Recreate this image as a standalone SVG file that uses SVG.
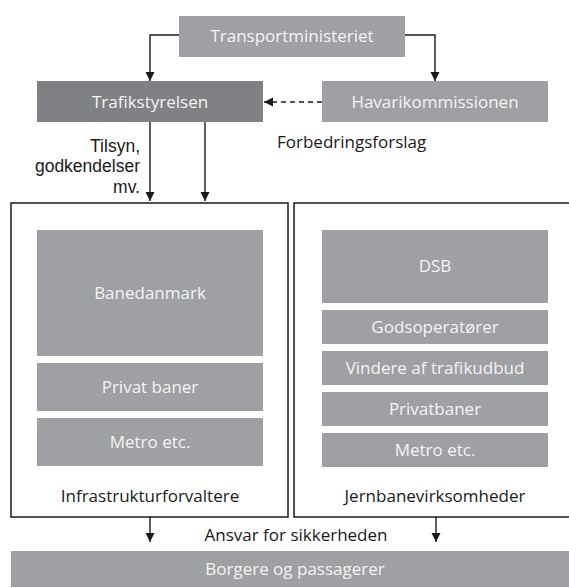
<svg xmlns="http://www.w3.org/2000/svg" width="569" height="588" viewBox="0 0 569 588">
<style>
.box{fill:#9fa0a4}
.dark{fill:#808184}
.frame{fill:#fff;stroke:#1a1a1a;stroke-width:1.5}
.wt{font-family:"Open Sans","Liberation Sans",sans-serif;font-size:17px;fill:#f4f4f4;text-anchor:middle}
.bt{font-family:"Open Sans","Liberation Sans",sans-serif;font-size:17px;fill:#1a1a1a}
.lt{font-family:"Liberation Sans",Arial,sans-serif;font-size:17.5px;fill:#1a1a1a;text-anchor:end}
.c{fill:none;stroke:#1a1a1a;stroke-width:1.4}
.d{stroke-dasharray:5 4}
</style>
<defs>
<marker id="ah" markerUnits="userSpaceOnUse" markerWidth="10" markerHeight="10" refX="9" refY="4.5" orient="auto">
<path d="M0,0 L9,4.5 L0,9 z" fill="#1a1a1a"/>
</marker>
</defs>
<rect width="569" height="588" fill="#fff"/>
<g id="connectors">
<path class="c" d="M179,35 H150 V81" marker-end="url(#ah)"/>
<path class="c" d="M405,35 H435 V81" marker-end="url(#ah)"/>
<path class="c d" d="M322,102 H264" marker-end="url(#ah)"/>
<path class="c" d="M150,122 V201" marker-end="url(#ah)"/>
<path class="c" d="M205,122 V201" marker-end="url(#ah)"/>
<path class="c" d="M150,517 V542" marker-end="url(#ah)"/>
<path class="c" d="M436,517 V542" marker-end="url(#ah)"/>
</g>
<g id="transportministeriet">
<rect class="box" x="179" y="16" width="226" height="41"/>
<text class="wt" x="292" y="42">Transportministeriet</text>
</g>
<g id="trafikstyrelsen">
<rect class="dark" x="37" y="81" width="226" height="41"/>
<text class="wt" x="150" y="107.5">Trafikstyrelsen</text>
</g>
<g id="havarikommissionen">
<rect class="box" x="322" y="81" width="226" height="41"/>
<text class="wt" x="435" y="107.5">Havarikommissionen</text>
</g>
<g id="label-tilsyn">
<text class="lt" x="140" y="151.5">Tilsyn,</text>
<text class="lt" x="140" y="172">godkendelser</text>
<text class="lt" x="140" y="192.5">mv.</text>
</g>
<g id="label-forbedring">
<text class="bt" x="277" y="148">Forbedringsforslag</text>
</g>
<g id="infrastrukturforvaltere">
<rect class="frame" x="11" y="203" width="277" height="314"/>
<text class="bt" text-anchor="middle" x="150" y="502">Infrastrukturforvaltere</text>
</g>
<g id="banedanmark">
<rect class="box" x="37" y="230" width="226" height="126"/>
<text class="wt" x="150" y="299">Banedanmark</text>
</g>
<g id="privat-baner">
<rect class="box" x="37" y="363" width="226" height="48"/>
<text class="wt" x="150" y="393">Privat baner</text>
</g>
<g id="metro-left">
<rect class="box" x="37" y="418" width="226" height="48"/>
<text class="wt" x="150" y="448">Metro etc.</text>
</g>
<g id="jernbanevirksomheder">
<rect class="frame" x="294" y="203" width="280" height="314"/>
<text class="bt" text-anchor="middle" x="435" y="502">Jernbanevirksomheder</text>
</g>
<g id="dsb">
<rect class="box" x="322" y="230" width="226" height="73"/>
<text class="wt" x="435" y="272">DSB</text>
</g>
<g id="godsoperatorer">
<rect class="box" x="322" y="310" width="226" height="34"/>
<text class="wt" x="435" y="333">Godsoperatører</text>
</g>
<g id="vindere">
<rect class="box" x="322" y="351" width="226" height="34"/>
<text class="wt" x="435" y="374">Vindere af trafikudbud</text>
</g>
<g id="privatbaner">
<rect class="box" x="322" y="392" width="226" height="34"/>
<text class="wt" x="435" y="415">Privatbaner</text>
</g>
<g id="metro-right">
<rect class="box" x="322" y="433" width="226" height="34"/>
<text class="wt" x="435" y="456">Metro etc.</text>
</g>
<g id="label-ansvar">
<text class="bt" text-anchor="middle" x="296" y="541">Ansvar for sikkerheden</text>
</g>
<g id="borgere">
<rect class="box" x="11" y="551" width="569" height="36"/>
<text class="wt" x="295" y="575">Borgere og passagerer</text>
</g>
</svg>
